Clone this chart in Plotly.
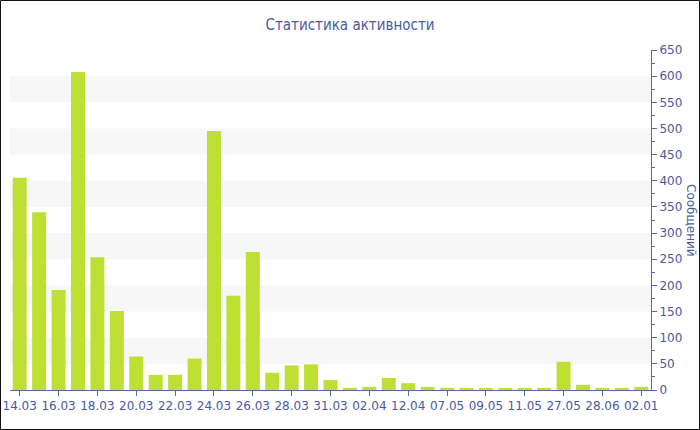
import plotly.graph_objects as go

dates = ["14.03", "15.03", "16.03", "17.03", "18.03", "19.03", "20.03", "21.03",
         "22.03", "23.03", "24.03", "25.03", "26.03", "27.03", "28.03", "29.03",
         "31.03", "01.04", "02.04", "05.04", "12.04", "20.04", "07.05", "08.05",
         "09.05", "10.05", "11.05", "15.05", "27.05", "29.05", "28.06", "15.07",
         "02.01"]
messages = [406, 340, 191, 608, 254, 151, 64, 29, 29, 60, 495, 180, 264, 33, 47, 49,
            19, 4, 6, 23, 13, 6, 4, 4, 4, 4, 4, 4, 54, 10, 4, 4, 6]
y_ticks = list(range(0, 651, 50))

TXT = "#4a5aa0"
AX = "#5568ad"
FONT = "DejaVu Sans"

fig = go.Figure()
fig.add_trace(go.Bar(x=dates, y=messages, marker=dict(color="#bde033", line=dict(width=0)),
                     width=0.72))

shapes = []
for lo in range(50, 650, 100):
    shapes.append(dict(type="rect", xref="paper", yref="y", x0=0, x1=1, y0=lo, y1=lo + 50,
                       fillcolor="#f7f7f7", line=dict(width=0), layer="below"))
# outer border
W, H = 641.0, 340.0
shapes.append(dict(type="rect", xref="paper", yref="paper",
                   x0=-9.5 / W, x1=1 + 48.5 / W, y0=-39.5 / H, y1=1 + 49.5 / H,
                   line=dict(color="#111111", width=1), fillcolor="rgba(0,0,0,0)"))

fig.update_layout(
    width=700, height=430,
    margin=dict(l=10, r=49, t=50, b=40, autoexpand=False),
    paper_bgcolor="white", plot_bgcolor="white",
    showlegend=False,
    bargap=0.28,
    title=dict(text="Статистика активности", x=0.5, xanchor="center", xref="container",
               y=1 - 25 / 430, yanchor="middle",
               font=dict(family="DejaVu Sans Condensed", size=15, color=TXT)),
    font=dict(family=FONT, size=12, color=TXT),
    shapes=shapes,
    xaxis=dict(type="category", tickmode="array", tickvals=dates[::2], ticktext=dates[::2],
               showline=True, linecolor=AX, linewidth=1, ticks="outside", ticklen=5,
               tickcolor=AX, showgrid=False, tickfont=dict(family=FONT, size=12, color=TXT),
               range=[-0.5, len(dates) - 0.5], automargin=False),
    yaxis=dict(side="right", range=[0, 650], tickvals=y_ticks, showline=True, linecolor=AX,
               linewidth=1, ticks="outside", ticklen=5, tickcolor=AX, showgrid=False,
               zeroline=False, tickfont=dict(family=FONT, size=12, color=TXT), automargin=False,
               minor=dict(ticks="outside", ticklen=3, tickcolor=AX, dtick=25, showgrid=False)),
    annotations=[dict(text="Сообщений", textangle=90, xref="paper", yref="paper",
                      x=1 + 40 / W, y=0.5, xanchor="center", yanchor="middle",
                      showarrow=False, font=dict(family=FONT, size=12, color=TXT))],
)

fig.write_html("out.html", config={"displayModeBar": False})
with open("out.html", encoding="utf-8") as f:
    html = f.read()
html = html.replace("<head>", "<head><style>html,body{margin:0;padding:0;overflow:hidden}</style>", 1)
with open("out.html", "w", encoding="utf-8") as f:
    f.write(html)
